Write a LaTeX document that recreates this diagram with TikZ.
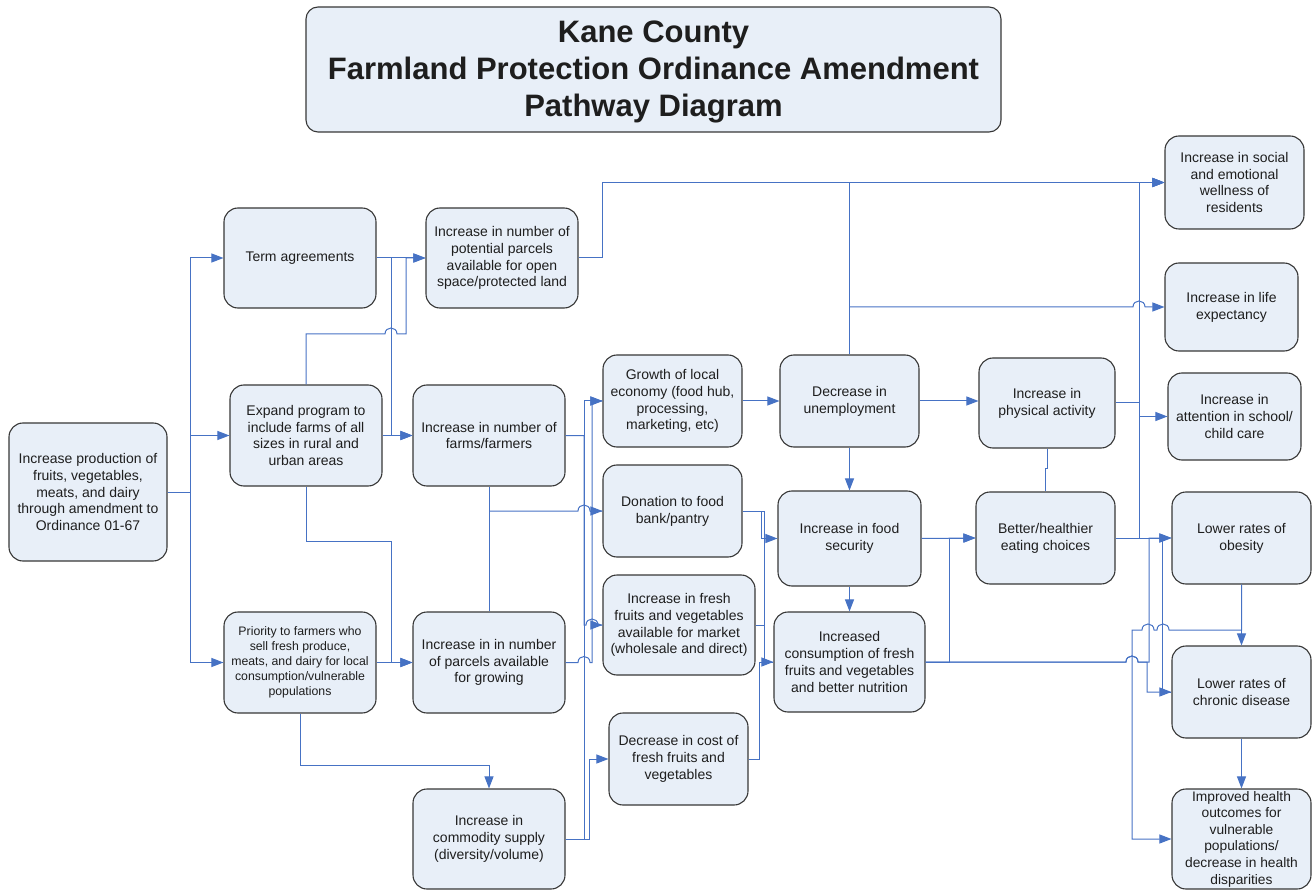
\documentclass[tikz,border=0pt]{standalone}
\usepackage{fontspec}
\setmainfont{Liberation Sans}
\usetikzlibrary{arrows.meta}
\definecolor{lineblue}{RGB}{70,114,196}
\definecolor{boxfill}{RGB}{232,239,248}
\definecolor{boxline}{RGB}{55,55,55}
\definecolor{txt}{RGB}{30,30,30}
\newcommand\hmp[2]{-- ({#1-6},#2) .. controls ({#1-6},{#2-8}) and ({#1+6},{#2-8}) .. ({#1+6},#2)}
\newcommand\hmpl[2]{-- ({#1+6},#2) .. controls ({#1+6},{#2-8}) and ({#1-6},{#2-8}) .. ({#1-6},#2)}
\begin{document}
\begin{tikzpicture}[x=1pt,y=-1pt,
  box/.style={draw=boxline, fill=boxfill, rounded corners=14pt, line width=1.1pt, align=center, inner sep=0pt, text=txt, font=\fontsize{14}{16.8}\selectfont},
  conn/.style={draw=lineblue, line width=1pt},
  arr/.style={conn, -{Triangle[length=12pt,width=9pt]}}]
\useasboundingbox (0,0) rectangle (1312,890);

% title
\node[box, minimum width=695pt, minimum height=125pt, rounded corners=12pt] (T) at (653.5,69.5) {};
\node[font=\bfseries\fontsize{31}{37}\selectfont, text=txt, align=center, inner sep=0pt] (TT) at (653.5,72) {Kane County\\Farmland Protection Ordinance Amendment\\Pathway Diagram};

% nodes
\node[box, minimum width=158pt, minimum height=138pt] (A) at (88,492) {Increase production of\\fruits, vegetables,\\meats, and dairy\\through amendment to\\Ordinance 01-67};
\node[box, minimum width=152pt, minimum height=100pt] (TA) at (300,258) {Term agreements};
\node[box, minimum width=152pt, minimum height=101pt] (EX) at (306,435.5) {Expand program to\\include farms of all\\sizes in rural and\\urban areas};
\node[box, minimum width=152pt, minimum height=101pt, font=\fontsize{12.3}{15}\selectfont] (PR) at (300,662.5) {Priority to farmers who\\sell fresh produce,\\meats, and dairy for local\\consumption/vulnerable\\populations};
\node[box, minimum width=152pt, minimum height=100pt] (PO) at (502,258) {Increase in number of\\potential parcels\\available for open\\space/protected land};
\node[box, minimum width=152pt, minimum height=101pt] (FF) at (489,435.5) {Increase in number of\\farms/farmers};
\node[box, minimum width=152pt, minimum height=101pt] (PG) at (489,662.5) {Increase in in number\\of parcels available\\for growing};
\node[box, minimum width=152pt, minimum height=100pt] (CS) at (489,839) {Increase in\\commodity supply\\(diversity/volume)};
\node[box, minimum width=139pt, minimum height=92pt] (GE) at (672.5,401) {Growth of local\\economy (food hub,\\processing,\\marketing, etc)};
\node[box, minimum width=139pt, minimum height=92pt] (DN) at (672.5,511) {Donation to food\\bank/pantry};
\node[box, minimum width=152pt, minimum height=100pt] (FM) at (679,625) {Increase in fresh\\fruits and vegetables\\available for market\\(wholesale and direct)};
\node[box, minimum width=139pt, minimum height=92pt] (DC) at (678.5,759) {Decrease in cost of\\fresh fruits and\\vegetables};
\node[box, minimum width=139pt, minimum height=92pt] (DU) at (849.5,401) {Decrease in\\unemployment};
\node[box, minimum width=143pt, minimum height=95pt] (FS) at (849.5,538.5) {Increase in food\\security};
\node[box, minimum width=151pt, minimum height=100pt] (IC) at (849.5,662) {Increased\\consumption of fresh\\fruits and vegetables\\and better nutrition};
\node[box, minimum width=136pt, minimum height=90pt] (PA) at (1047,403) {Increase in\\physical activity};
\node[box, minimum width=139pt, minimum height=92pt] (BH) at (1045.5,538) {Better/healthier\\eating choices};
\node[box, minimum width=139pt, minimum height=93pt] (SO) at (1234.5,182.5) {Increase in social\\and emotional\\wellness of\\residents};
\node[box, minimum width=133pt, minimum height=88pt] (LE) at (1231.5,307) {Increase in life\\expectancy};
\node[box, minimum width=133pt, minimum height=87pt] (AT) at (1234.5,416.5) {Increase in\\attention in school/\\child care};
\node[box, minimum width=139pt, minimum height=92pt] (OB) at (1241.5,538) {Lower rates of\\obesity};
\node[box, minimum width=139pt, minimum height=92pt] (CD) at (1241.5,692) {Lower rates of\\chronic disease};
\node[box, minimum width=139pt, minimum height=100pt, font=\fontsize{13.8}{16.6}\selectfont] (IH) at (1241.5,839) {Improved health\\outcomes for\\vulnerable\\populations/\\decrease in health\\disparities};

% left connectors
\draw[arr] (A.east) -- ++(23,0) |- (TA.west);
\draw[arr] (A.east) -- ++(23,0) |- (EX.west);
\draw[arr] (A.east) -- ++(23,0) |- (PR.west);
\draw[arr] (TA.east) -- (PO.west);
\draw[arr] (TA.east) -- (391,258) |- (FF.west);
\draw[arr] (EX.north) |- (385,334) \hmp{391}{334} -- (406,334) |- (PO.west);
\draw[arr] (EX.east) -- (FF.west);
\draw[arr] (EX.south) |- (391,541) -- (391,662.5) -- (PG.west);
\draw[arr] (PR.east) -- (PG.west);
\draw[arr] (PR.south) |- (489,765) -- (CS.north);

% bus to middle column
\draw[arr] (FF.east) -- (584,435.5) |- (GE.west);
\draw[arr] (CS.east) -- (584,839) |- (GE.west);
\draw[arr] (CS.east) -- (589,839) |- (DC.west);
\draw[conn] (PG.east) -- (578,662.5) \hmp{584}{662.5} -- (592,662.5) |- (GE.west);
\draw[conn] (FF.south) -- (PG.north);
\draw[conn] (FF.south |- DN.west) -- (578,511) \hmp{584}{511} -- (DN.west);
\draw[arr] (590,511) -- (DN.west);
\draw[conn] (FF.east) -- (584,435.5) -- (584,625) \hmp{592}{625} -- (FM.west);
\draw[arr] (591,625) -- (FM.west);

% middle
\draw[arr] (GE.east) -- (DU.west);
\draw[arr] (DU.south) -- (FS.north);
\draw[arr] (FS.south) -- (IC.north);
\draw[arr] (DN.east) -- (761,511) |- (FS.west);
\draw[conn] (DN.east) -- (764,511) |- (IC.west);
\draw[conn] (FM.east) -- (764,625);
\draw[arr] (DC.east) -- (759,759) |- (IC.west);

% right
\draw[arr] (DU.east) -- (PA.west |- DU.east);
\draw[arr] (DU.north) |- (SO.west);
\draw[arr] (PO.east) -- (602,258) |- (SO.west);
\draw[arr] (DU.north |- LE.west) -- (1133,307) \hmp{1139}{307} -- (LE.west);
\draw[arr] (BH.east) -- (1139,538) |- (SO.west);
\draw[arr] (PA.east) -- (1139,403) |- (AT.west);
\draw[conn] (PA.south) -- ++(0,20) -| (BH.north);
\draw[arr] (FS.east) -- (BH.west);
\draw[arr] (IC.east) -- (949,662) |- (BH.west);
\draw[arr] (BH.east) -- (OB.west);
\draw[conn] (BH.east) -- (1162,538) |- (CD.west);
\draw[arr] (IC.east) -- (1126,662) \hmp{1132}{662} -- (1149,662) |- (OB.west);
\draw[arr] (IC.east) -- (1126,662) \hmp{1132}{662} -- (1147,662) |- (CD.west);
\draw[arr] (OB.south) -- (CD.north);
\draw[arr] (OB.south) -- (1241.5,630) -- (1169,630) \hmpl{1163}{630} -- (1154,630) \hmpl{1148}{630} -- (1132,630) |- (IH.west);
\draw[arr] (CD.south) -- (IH.north);
\end{tikzpicture}
\end{document}
